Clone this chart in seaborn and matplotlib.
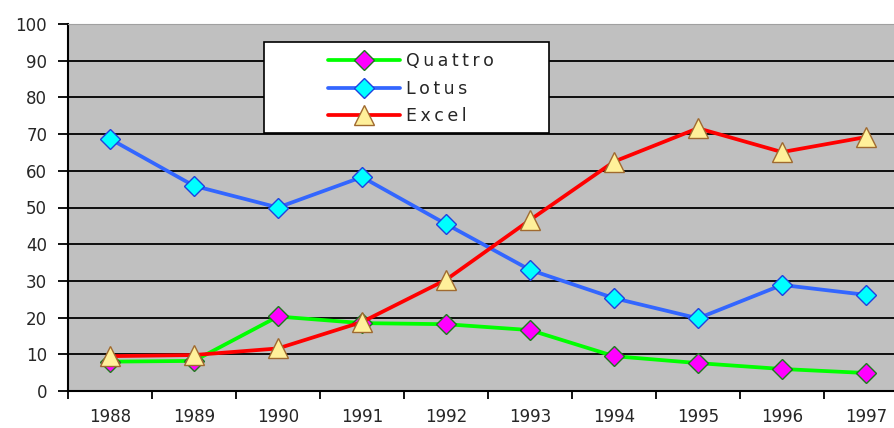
import matplotlib
matplotlib.use("Agg")
import matplotlib.pyplot as plt
import matplotlib.patches as mpatches
import seaborn as sns
import pandas as pd

# data
years = [1988, 1989, 1990, 1991, 1992, 1993, 1994, 1995, 1996, 1997]
quattro = [8.0, 8.2, 20.3, 18.5, 18.2, 16.6, 9.5, 7.6, 6.0, 4.9]
lotus = [68.7, 55.9, 50.0, 58.3, 45.5, 33.0, 25.3, 19.8, 28.9, 26.2]
excel = [9.5, 9.8, 11.6, 18.8, 30.3, 46.6, 62.5, 71.6, 65.1, 69.2]
series = ["Quattro", "Lotus", "Excel"]

df = pd.DataFrame({"year": years, "Quattro": quattro, "Lotus": lotus, "Excel": excel})

sns.set_style("white")
plt.rcParams["font.family"] = ["DejaVu Sans"]

fig = plt.figure(figsize=(8.94, 4.28), dpi=100)
# plot area runs past the right edge of the picture, as in the reference
ax = fig.add_axes([68 / 894, 37 / 428, 840 / 894, 367 / 428])
ax.set_facecolor("#C0C0C0")

styles = {
    "Quattro": dict(color="#00FF00", marker="D", markerfacecolor="#FF00FF",
                    markeredgecolor="#1E7A1E", markersize=10.5),
    "Lotus": dict(color="#3366FF", marker="D", markerfacecolor="#00FFFF",
                  markeredgecolor="#2040E0", markersize=10.5),
    "Excel": dict(color="#FF0000", marker="^", markerfacecolor="#FFF09A",
                  markeredgecolor="#A06A30", markersize=14),
}
for name in series:
    # letter-spaced legend labels like the old Excel rendering
    spaced = "\u2009".join(name)
    sns.lineplot(data=df, x="year", y=name, ax=ax, label=spaced, linewidth=2.7,
                 markeredgewidth=1.0, **styles[name])

ax.set_xlim(1987.5, 1997.5)
ax.set_ylim(0, 100)
ax.set_yticks(range(0, 101, 10))
ax.set_xticks(years)
ax.set_xticks([y + 0.5 for y in [1987] + years], minor=True)
ax.tick_params(axis="x", which="major", length=0, pad=12, labelsize=12)
ax.tick_params(axis="x", which="minor", length=6, width=1.3, color="black", direction="out")
ax.tick_params(axis="y", length=7, width=1.3, color="black", direction="out", pad=8, labelsize=12)
ax.tick_params(bottom=True, left=True, which="both")
ax.set_xlabel("")
ax.set_ylabel("")

ax.set_axisbelow(True)
ax.yaxis.grid(True, color="black", linewidth=1.3)
ax.xaxis.grid(False)
for s in ["left", "bottom"]:
    ax.spines[s].set_color("black")
    ax.spines[s].set_linewidth(1.5)
ax.spines["top"].set_color("#A0A0A0")
ax.spines["right"].set_visible(False)

# legend box
box = mpatches.Rectangle((0.233, 0.703), 0.340, 0.248, transform=ax.transAxes,
                         facecolor="white", edgecolor="black", linewidth=1.2, zorder=4)
ax.add_patch(box)
leg = ax.legend(loc="center left", bbox_to_anchor=(0.309, 0.824), frameon=False,
                borderpad=0, borderaxespad=0, handlelength=4.2, handletextpad=0.3,
                labelspacing=0.55, fontsize=12.5)
leg.set_zorder(5)

fig.savefig("out.png", dpi=100)
